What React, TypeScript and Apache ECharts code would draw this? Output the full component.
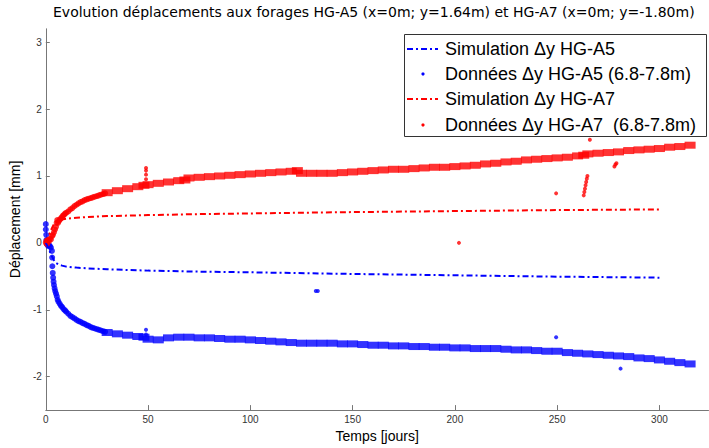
import React, { useEffect, useRef } from "react";
import * as echarts from "echarts";

const TITLE = "Evolution déplacements aux forages HG-A5 (x=0m; y=1.64m) et HG-A7 (x=0m; y=-1.80m)";
const X_NAME = "Temps [jours]";
const Y_NAME = "Déplacement [mm]";
const LEGEND_LABELS = [
  "Simulation Δy HG-A5",
  "Données Δy HG-A5 (6.8-7.8m)",
  "Simulation Δy HG-A7",
  "Données Δy HG-A7  (6.8-7.8m)",
];

// Simulations
const SIM_DAYS = [0, 1, 2, 3, 4, 5, 6, 8, 10, 15, 20, 30, 50, 75, 100, 150, 200, 250, 300];
const SIM_A5 = [0, -0.06, -0.13, -0.2, -0.26, -0.3, -0.32, -0.34, -0.355, -0.37, -0.38, -0.395, -0.415, -0.43, -0.44, -0.465, -0.485, -0.505, -0.52];
const SIM_A7 = [0, 0.07, 0.15, 0.22, 0.28, 0.31, 0.33, 0.35, 0.36, 0.375, 0.385, 0.4, 0.415, 0.43, 0.44, 0.46, 0.475, 0.49, 0.5];

// Data A5 (blue) - main band
const A5_DAYS = [30, 35, 40, 45, 48, 50, 55, 60, 65, 70, 75, 80, 85, 90, 95, 100, 105, 110, 115, 120, 125, 130, 135, 140, 145, 150, 155, 160, 165, 170, 175, 180, 185, 190, 195, 200, 205, 210, 215, 220, 225, 230, 235, 240, 245, 250, 255, 260, 265, 270, 275, 280, 285, 290, 295, 300, 305, 310, 315];
const A5_VALS = [-1.34, -1.36, -1.38, -1.4, -1.41, -1.44, -1.45, -1.42, -1.41, -1.41, -1.42, -1.42, -1.43, -1.44, -1.44, -1.45, -1.46, -1.47, -1.48, -1.49, -1.5, -1.5, -1.5, -1.5, -1.51, -1.51, -1.52, -1.53, -1.53, -1.54, -1.54, -1.55, -1.55, -1.56, -1.56, -1.57, -1.57, -1.58, -1.58, -1.58, -1.59, -1.6, -1.6, -1.61, -1.62, -1.62, -1.64, -1.65, -1.66, -1.67, -1.68, -1.69, -1.7, -1.72, -1.73, -1.75, -1.77, -1.79, -1.81];
// Data A5 - early readings
const A5_EARLY = [[0, 0.28], [0, 0.2], [0.2, 0.12], [0.3, 0.04], [0.6, -0.02], [1, -0.04], [1.5, -0.03], [2, -0.05], [2.5, -0.07], [3, -0.12], [3.1, -0.22], [3.2, -0.35], [3.4, -0.45], [3.6, -0.52], [3.8, -0.58], [4, -0.63], [4.3, -0.68], [4.6, -0.72], [5, -0.76], [5.4, -0.8], [5.8, -0.85], [6.2, -0.88], [6.8, -0.91], [7.4, -0.94], [8, -0.96], [8.7, -0.99], [9.4, -1.01], [10, -1.03], [11, -1.06], [12, -1.09], [13, -1.11], [14, -1.13], [15, -1.15], [16, -1.17], [17, -1.18], [18, -1.2], [19, -1.21], [20, -1.23], [21, -1.24], [22, -1.26], [23, -1.27], [24, -1.28], [25, -1.29], [26, -1.3], [27, -1.31], [28, -1.32], [29, -1.33]];
// Data A5 - isolated readings
const A5_OUTLIERS = [[49, -1.37], [49, -1.3], [132, -0.72], [133, -0.72], [249.5, -1.41], [281, -1.88]];

// Data A7 (red) - main band
const A7_DAYS = [30, 35, 40, 45, 48, 50, 55, 60, 65, 68, 70, 75, 80, 85, 90, 95, 100, 105, 110, 115, 120, 123, 125, 130, 135, 140, 145, 150, 155, 160, 165, 170, 175, 180, 185, 190, 195, 200, 205, 210, 215, 220, 225, 230, 235, 240, 245, 250, 255, 260, 263, 265, 270, 275, 280, 285, 290, 295, 300, 305, 310, 315];
const A7_VALS = [0.75, 0.78, 0.81, 0.84, 0.86, 0.87, 0.89, 0.91, 0.93, 0.94, 0.97, 0.98, 0.99, 1.0, 1.01, 1.02, 1.03, 1.04, 1.05, 1.06, 1.07, 1.08, 1.04, 1.04, 1.04, 1.04, 1.05, 1.06, 1.07, 1.08, 1.09, 1.1, 1.1, 1.11, 1.12, 1.13, 1.13, 1.14, 1.15, 1.16, 1.18, 1.19, 1.21, 1.22, 1.24, 1.25, 1.26, 1.27, 1.28, 1.3, 1.31, 1.33, 1.34, 1.35, 1.36, 1.38, 1.39, 1.4, 1.41, 1.43, 1.44, 1.46];
const A7_EARLY = [[0, 0], [0.3, 0.03], [0.6, -0.02], [1, 0.04], [1.5, 0.02], [2, 0.06], [2.5, 0.05], [3, 0.1], [3.5, 0.12], [4, 0.16], [4.5, 0.2], [5, 0.24], [5.3, 0.3], [5.6, 0.34], [6, 0.3], [6.5, 0.33], [7, 0.35], [7.5, 0.37], [8, 0.39], [8.5, 0.41], [9, 0.42], [9.5, 0.44], [10, 0.45], [11, 0.47], [12, 0.5], [13, 0.52], [14, 0.55], [15, 0.57], [16, 0.59], [17, 0.61], [18, 0.62], [19, 0.64], [20, 0.65], [21, 0.66], [22, 0.67], [23, 0.68], [24, 0.69], [25, 0.7], [26, 0.71], [27, 0.72], [28, 0.73], [29, 0.74]];
const A7_OUTLIERS = [[49, 0.95], [49, 1.02], [49, 1.08], [49, 1.12], [202, 0.0], [249.5, 0.74], [263, 0.71], [263.3, 0.76], [263.6, 0.81], [263.9, 0.86], [264.2, 0.91], [264.5, 0.96], [264.8, 1.0], [266, 1.54], [278, 1.14], [278.5, 1.17], [279, 1.19]];

const BLUE = "#0000ff";
const RED = "#ff0000";
const FONT = '"Liberation Sans", Arial, sans-serif';
const DASH = [6, 3, 2, 3];

export default function App() {
  const ref = useRef<HTMLDivElement>(null);
  useEffect(() => {
    if (!ref.current) return;
    const chart = echarts.init(ref.current, undefined, { renderer: "svg" });
    const pair = (d: number[], v: number[]) => d.map((x, i) => [x, v[i]]);
    const legendRows = [49, 74, 99, 125];
    const legendColors = [BLUE, BLUE, RED, RED];
    const graphics: any[] = [
      {
        type: "rect",
        z: 100,
        shape: { x: 404.5, y: 34.5, width: 302, height: 102 },
        style: { fill: "#fff", stroke: "#333", lineWidth: 1 },
      },
    ];
    legendRows.forEach((y, i) => {
      if (i % 2 === 0) {
        graphics.push({
          type: "line",
          z: 101,
          shape: { x1: 407, y1: y, x2: 438, y2: y },
          style: { stroke: legendColors[i], lineWidth: 2, lineDash: DASH },
        });
      } else {
        graphics.push({
          type: "circle",
          z: 101,
          shape: { cx: 423, cy: y, r: 1.6 },
          style: { fill: legendColors[i] },
        });
      }
      graphics.push({
        type: "text",
        z: 101,
        x: 445,
        y: y,
        style: {
          text: LEGEND_LABELS[i],
          fill: "#000",
          font: `18px ${FONT}`,
          verticalAlign: "middle",
          align: "left",
        },
      });
    });

    chart.setOption({
      animation: false,
      backgroundColor: "#fff",
      title: {
        text: TITLE,
        left: 53,
        top: 5,
        padding: 0,
        textStyle: { fontFamily: '"DejaVu Sans", sans-serif', fontSize: 14, fontWeight: "normal", color: "#000" },
      },
      grid: { left: 37.3, right: 0.5, top: 28.8, bottom: 29.7, containLabel: false },
      xAxis: {
        type: "value",
        min: 0,
        max: 324,
        interval: 50,
        name: X_NAME,
        nameLocation: "middle",
        nameGap: 13,
        nameTextStyle: { fontFamily: FONT, fontSize: 14, color: "#000", verticalAlign: "top" },
        axisLine: { show: true, onZero: false, lineStyle: { color: "#777", width: 1 } },
        axisTick: { show: true, inside: true, length: 5, lineStyle: { color: "#777" } },
        axisLabel: { fontFamily: FONT, fontSize: 10, color: "#333", margin: 4, showMaxLabel: false },
        splitLine: { show: false },
      },
      yAxis: {
        type: "value",
        min: -2.5,
        max: 3.2,
        splitNumber: 6,
        name: Y_NAME,
        nameLocation: "middle",
        nameGap: 14,
        nameRotate: 90,
        nameTextStyle: { fontFamily: FONT, fontSize: 14, color: "#000" },
        axisLine: { show: true, onZero: false, lineStyle: { color: "#777", width: 1 } },
        axisTick: { show: true, inside: true, length: 4, lineStyle: { color: "#777" } },
        axisLabel: { fontFamily: FONT, fontSize: 10, color: "#333", margin: 4, showMinLabel: false, showMaxLabel: false },
        splitLine: { show: false },
      },
      graphic: graphics,
      series: [
        {
          name: LEGEND_LABELS[1],
          type: "scatter",
          data: pair(A5_DAYS, A5_VALS),
          symbol: "rect",
          symbolSize: [11, 7],
          itemStyle: { color: BLUE },
          z: 2,
        },
        {
          name: LEGEND_LABELS[1],
          type: "scatter",
          data: A5_EARLY,
          symbol: "circle",
          symbolSize: 6,
          itemStyle: { color: BLUE },
          z: 2,
        },
        {
          name: LEGEND_LABELS[1],
          type: "scatter",
          data: A5_OUTLIERS,
          symbol: "circle",
          symbolSize: 4,
          itemStyle: { color: BLUE },
          z: 2,
        },
        {
          name: LEGEND_LABELS[3],
          type: "scatter",
          data: pair(A7_DAYS, A7_VALS),
          symbol: "rect",
          symbolSize: [11, 7],
          itemStyle: { color: RED },
          z: 2,
        },
        {
          name: LEGEND_LABELS[3],
          type: "scatter",
          data: A7_EARLY,
          symbol: "circle",
          symbolSize: 6,
          itemStyle: { color: RED },
          z: 2,
        },
        {
          name: LEGEND_LABELS[3],
          type: "scatter",
          data: A7_OUTLIERS,
          symbol: "circle",
          symbolSize: 4,
          itemStyle: { color: RED },
          z: 2,
        },
        {
          name: LEGEND_LABELS[0],
          type: "line",
          data: pair(SIM_DAYS, SIM_A5),
          showSymbol: false,
          lineStyle: { color: BLUE, width: 2, type: DASH },
          itemStyle: { color: BLUE },
          z: 3,
        },
        {
          name: LEGEND_LABELS[2],
          type: "line",
          data: pair(SIM_DAYS, SIM_A7),
          showSymbol: false,
          lineStyle: { color: RED, width: 2, type: DASH },
          itemStyle: { color: RED },
          z: 3,
        },
      ],
    });
    return () => chart.dispose();
  }, []);
  return (
    <div
      ref={ref}
      style={{ position: "fixed", left: 0, top: 0, width: 709, height: 448 }}
    />
  );
}
